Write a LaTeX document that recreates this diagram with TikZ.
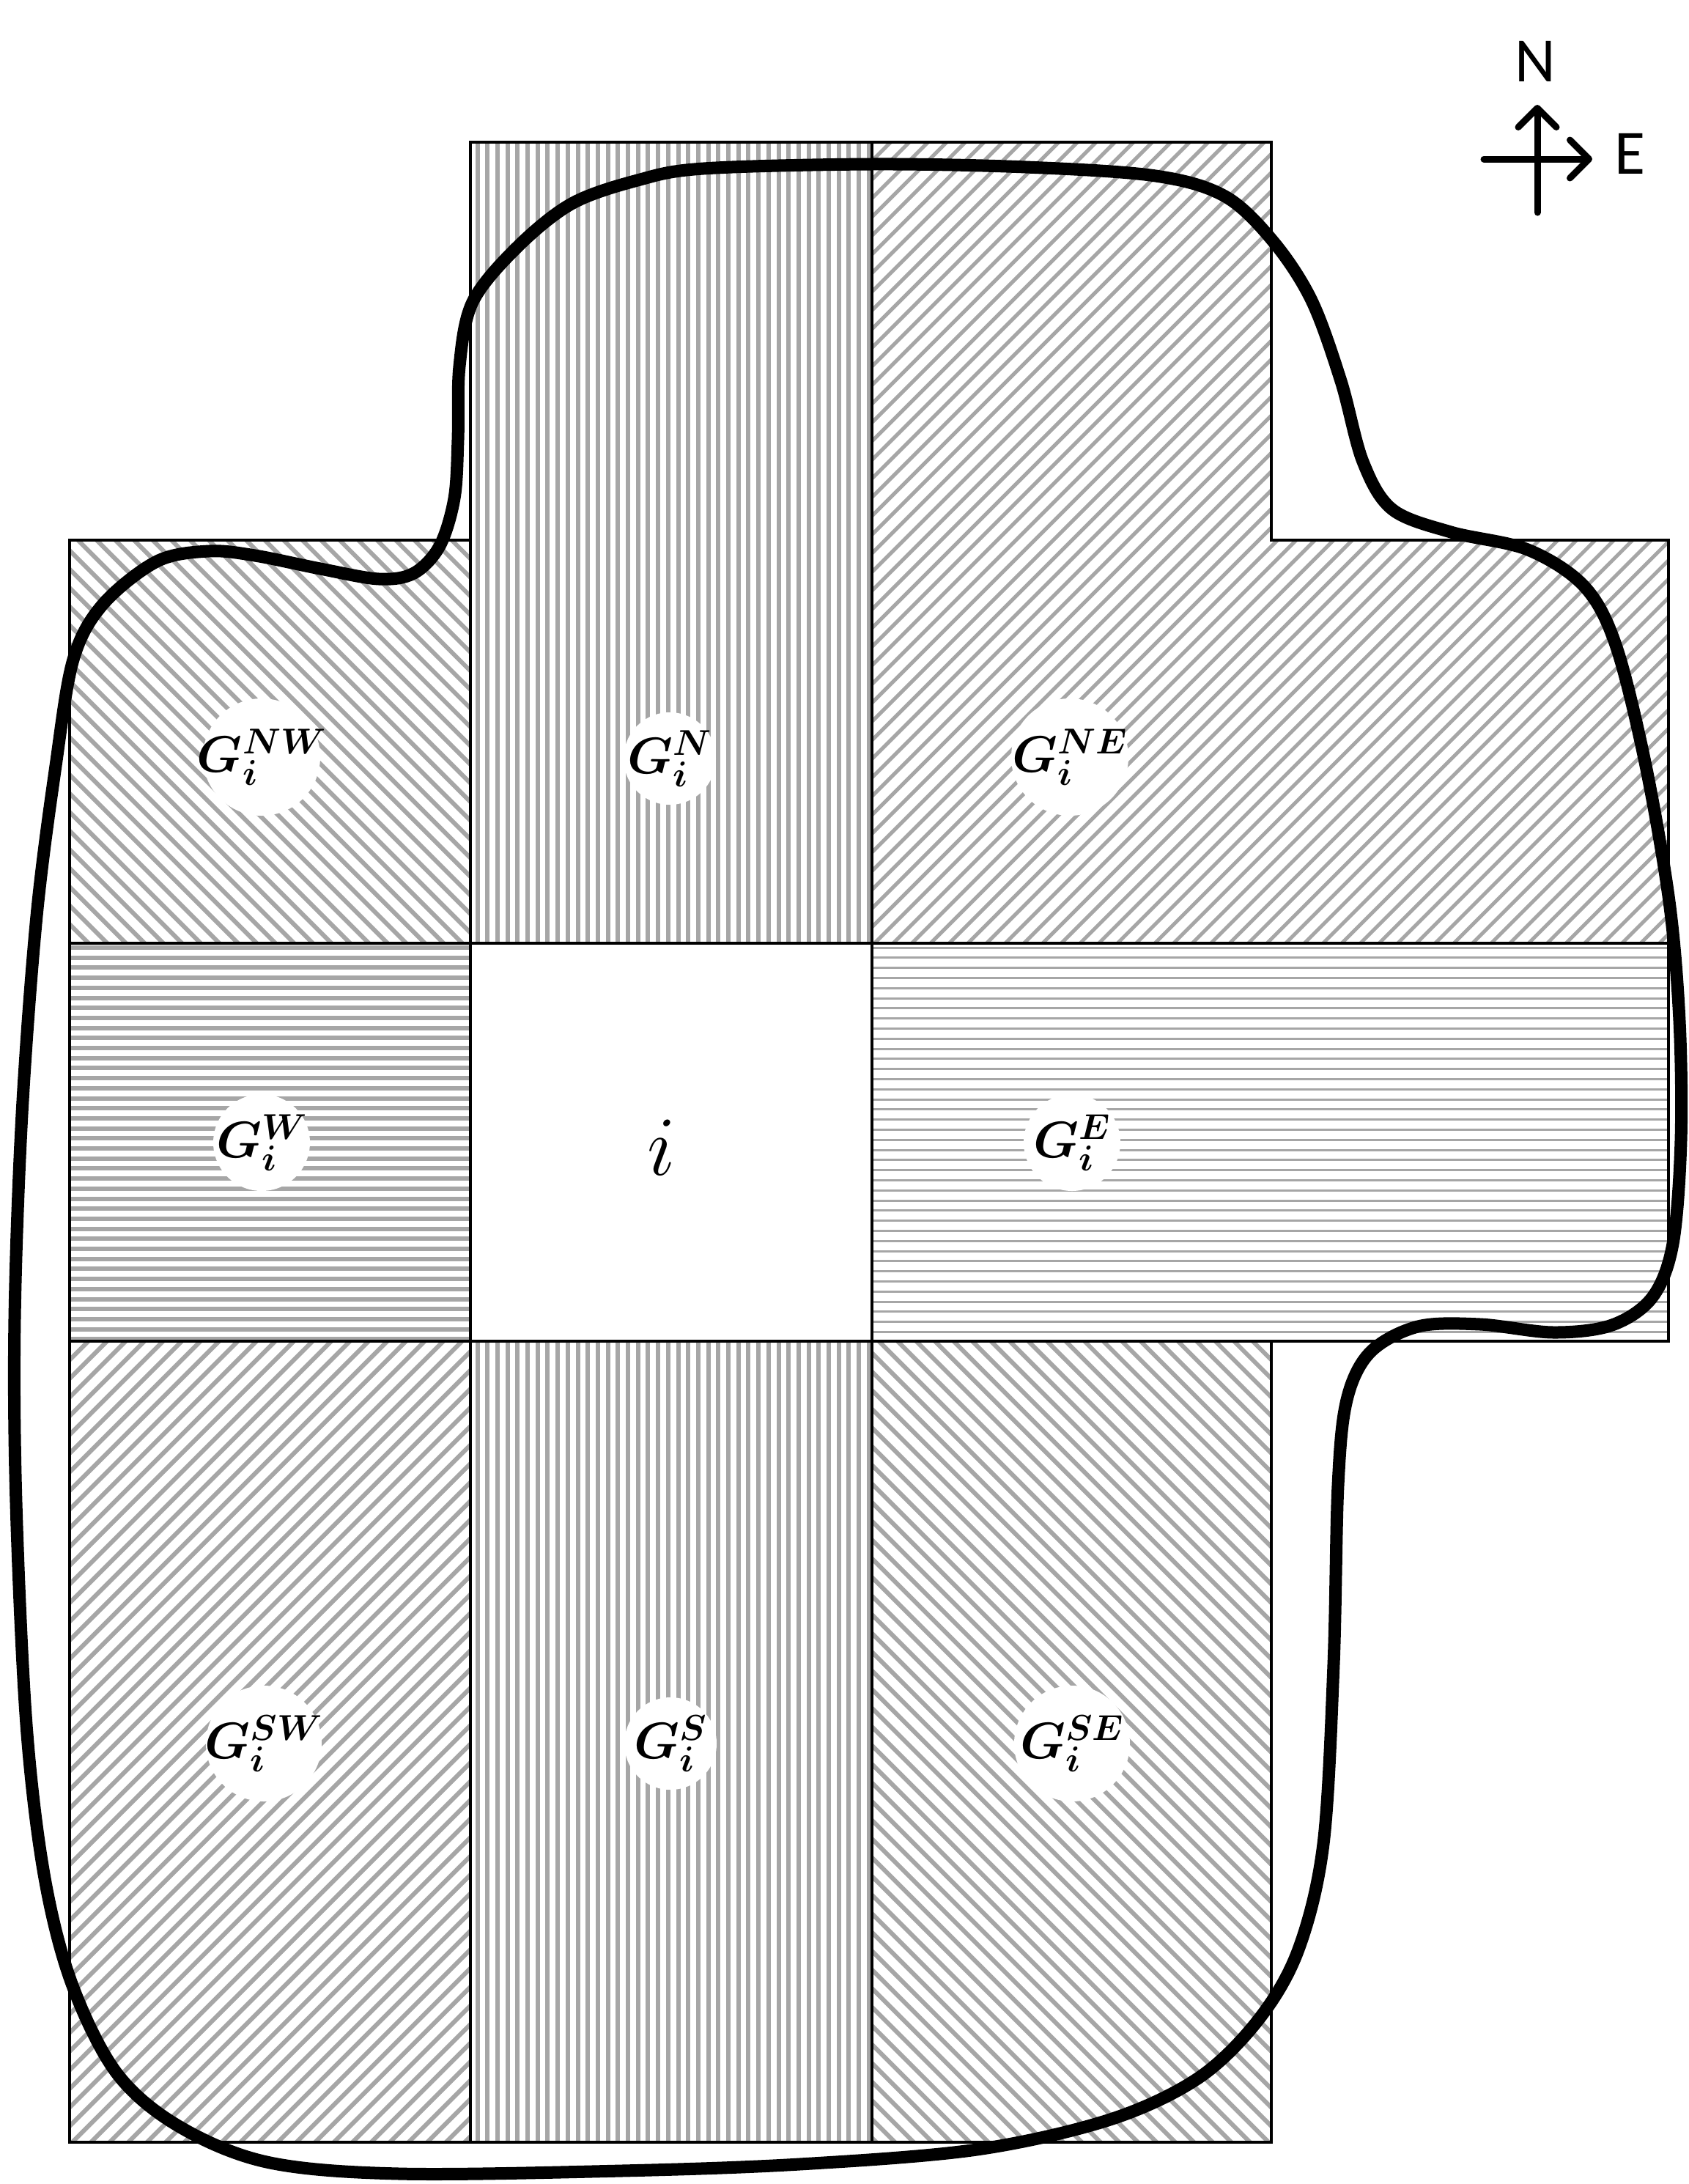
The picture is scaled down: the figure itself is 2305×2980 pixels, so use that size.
\RequirePackage{fix-cm}
\documentclass[tikz,border=0pt]{standalone}
\usepackage{fontspec}
\usepackage{amsmath,bm}
\newfontfamily\compassfont{Carlito}
\usetikzlibrary{arrows.meta}
\definecolor{hatchgray}{RGB}{166,166,166}
\tikzset{
  gridline/.style={draw=black, line width=4pt},
  hthick/.style={draw=hatchgray, line width=6pt},
  hthin/.style={draw=hatchgray, line width=3pt},
  hdiag/.style={draw=hatchgray, line width=6pt},
  hdiagthin/.style={draw=hatchgray, line width=5pt},
  blob/.style={draw=black, line width=17pt, line cap=round, line join=round},
  lbl/.style={circle, fill=white, inner sep=-20pt, font=\fontsize{70}{80}\selectfont},
  compass/.style={draw=black, line width=9pt, line cap=round,
    -{Straight Barb[length=26pt, width=52pt, line cap=round, line join=round]}},
  ctext/.style={font=\compassfont\fontsize{86}{90}\selectfont, inner sep=0pt}
}
\begin{document}
\begin{tikzpicture}[x=1pt, y=-1pt]
\useasboundingbox (0,0) rectangle (2305,2980);
% ---- N : vertical lines
\begin{scope}
\clip (642,194) rectangle (1190,1287);
\foreach \x in {651.5,665.2,...,1195} \draw[hthick] (\x,194) -- (\x,1287);
\end{scope}
% ---- S : vertical lines
\begin{scope}
\clip (642,1830) rectangle (1190,2923);
\foreach \x in {651.5,665.2,...,1195} \draw[hthick] (\x,1830) -- (\x,2923);
\end{scope}
% ---- W : horizontal lines (thick)
\begin{scope}
\clip (95,1287) rectangle (642,1830);
\foreach \y in {1293,1306.7,...,1835} \draw[hthick] (95,\y) -- (642,\y);
\end{scope}
% ---- E : horizontal lines (thin)
\begin{scope}
\clip (1190,1287) rectangle (2277,1830);
\foreach \y in {1293,1306.8,...,1835} \draw[hthin] (1190,\y) -- (2277,\y);
\end{scope}
% ---- NW : "\" lines
\begin{scope}
\clip (95,737) rectangle (642,1287);
\foreach \c in {95,120.5,...,1200} \draw[hdiag] ({737-\c},737) -- ({1287-\c},1287);
\end{scope}
% ---- SE : "\" lines
\begin{scope}
\clip (1190,1830) rectangle (1735,2923);
\foreach \c in {95,120.5,...,1740} \draw[hdiag] ({1830-\c},1830) -- ({2923-\c},2923);
\end{scope}
% ---- SW : "/" lines
\begin{scope}
\clip (95,1830) rectangle (642,2923);
\foreach \c in {1925,1950.5,...,3570} \draw[hdiag] ({\c-1830},1830) -- ({\c-2923},2923);
\end{scope}
% ---- NE : "/" lines (L-shape)
\begin{scope}
\clip (1190,194) -- (1735,194) -- (1735,737) -- (2277,737) -- (2277,1287) -- (1190,1287) -- cycle;
\foreach \c in {1384,1409.5,...,3570} \draw[hdiagthin] ({\c-194},194) -- ({\c-1287},1287);
\end{scope}
% ---- region borders
\draw[gridline] (642,194) rectangle (1190,1287);
\draw[gridline] (1190,194) -- (1735,194) -- (1735,737) -- (2277,737) -- (2277,1287) -- (1190,1287) -- cycle;
\draw[gridline] (95,737) rectangle (642,1287);
\draw[gridline] (95,1287) rectangle (642,1830);
\draw[gridline] (642,1287) rectangle (1190,1830);
\draw[gridline] (1190,1287) rectangle (2277,1830);
\draw[gridline] (95,1830) rectangle (642,2923);
\draw[gridline] (642,1830) rectangle (1190,2923);
\draw[gridline] (1190,1830) rectangle (1735,2923);
% ---- labels on white spots
\node[lbl, minimum size=160pt] (gNW) at (357,1033) {$\bm{G_i^{NW}}$};
\node[lbl, minimum size=126pt] (gN)  at (914,1035) {$\bm{G_i^{N}}$};
\node[lbl, minimum size=160pt] (gNE) at (1460,1033) {$\bm{G_i^{NE}}$};
\node[lbl, minimum size=132pt] (gW)  at (357,1559) {$\bm{G_i^{W}}$};
\node[inner sep=0pt, font=\fontsize{115}{120}\selectfont] (ci) at (903,1566) {$i$};
\node[lbl, minimum size=132pt] (gE)  at (1463,1559) {$\bm{G_i^{E}}$};
\node[lbl, minimum size=158pt] (gSW) at (360,2379) {$\bm{G_i^{SW}}$};
\node[lbl, minimum size=126pt] (gS)  at (915,2379) {$\bm{G_i^{S}}$};
\node[lbl, minimum size=158pt] (gSE) at (1463,2379) {$\bm{G_i^{SE}}$};
% ---- thick boundary
\draw[blob] plot[smooth cycle, tension=0.55] coordinates {
 (627,500) (645,412) (705,338) (780,278) (870,246) (960,230) (1190,224)
 (1400,228) (1577,240) (1672,268) (1738,330) (1790,410) (1830,520)
 (1860,630) (1900,695) (1980,726) (2085,750) (2162,800) (2205,880)
 (2245,1040) (2278,1230) (2292,1393) (2294,1556) (2283,1697) (2255,1770)
 (2200,1808) (2120,1818) (2020,1807) (1935,1810) (1870,1845) (1838,1910)
 (1826,2027) (1820,2271) (1806,2516) (1772,2660) (1718,2755) (1636,2835)
 (1515,2892) (1333,2933) (1091,2953) (848,2962) (545,2966) (364,2950)
 (242,2900) (158,2827) (97,2704) (60,2557) (36,2353) (22,2050) (20,1800)
 (30,1520) (50,1250) (76,1045) (100,900) (140,825) (214,766) (285,752)
 (348,758) (437,776) (517,790) (565,782) (600,745) (620,680) (625,600)
};
% ---- compass
\coordinate (vS) at (2098,290);
\coordinate (vN) at (2098,143);
\coordinate (hW) at (2025,217);
\coordinate (hE) at (2173,217);
\draw[compass] (vS) -- (vN);
\draw[compass] (hW) -- (hE);
\node[ctext] (tN) at (2095,84) {N};
\node[ctext] (tE) at (2224,210) {E};
\end{tikzpicture}
\end{document}
